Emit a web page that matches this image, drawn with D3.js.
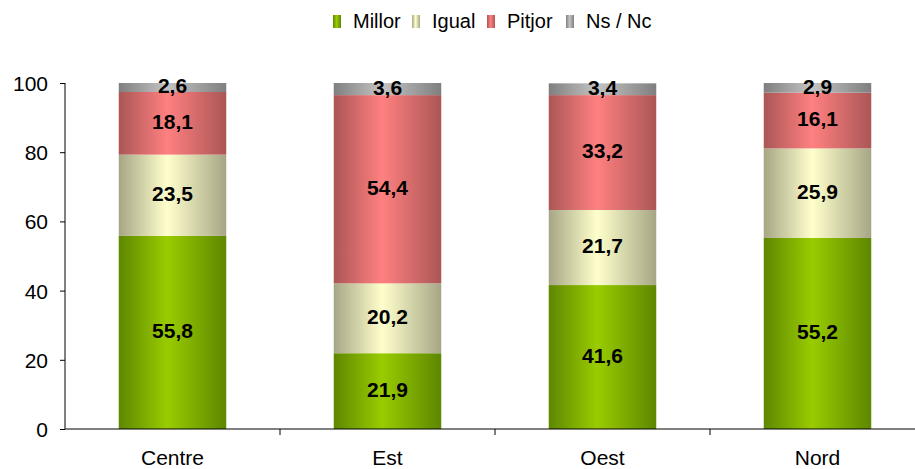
<!DOCTYPE html>
<html>
<head>
<meta charset="utf-8">
<script src="https://cdn.jsdelivr.net/npm/d3@7"></script>
<style>
  body { margin: 0; background: #fff; }
  text { font-family: "Liberation Sans", Arial, sans-serif; }
</style>
</head>
<body>
<svg id="chart" width="915" height="469"></svg>
<script>
// chart data
var categories = ["Centre", "Est", "Oest", "Nord"];
var seriesNames = ["Millor", "Igual", "Pitjor", "Ns / Nc"];
var millor = [55.8, 21.9, 41.6, 55.2];
var igual = [23.5, 20.2, 21.7, 25.9];
var pitjor = [18.1, 54.4, 33.2, 16.1];
var nsnc = [2.6, 3.6, 3.4, 2.9];
var yTicks = [0, 20, 40, 60, 80, 100];

var colors = [
  { edge: "#5e8700", mid: "#99cc00" },
  { edge: "#a6a686", mid: "#ffffcc" },
  { edge: "#ab5656", mid: "#ff8080" },
  { edge: "#7f7f7f", mid: "#c4c4c4" }
];

var svg = d3.select("#chart");

var x = d3.scaleBand().domain(categories).range([65, 925]).paddingInner(0.5).paddingOuter(0.25);
var y = d3.scaleLinear().domain([0, 100]).range([429, 83]);

// gradients
var defs = svg.append("defs");
colors.forEach(function (c, i) {
  var g = defs.append("linearGradient").attr("id", "grad" + i)
    .attr("x1", "0%").attr("x2", "100%").attr("y1", "0%").attr("y2", "0%");
  g.append("stop").attr("offset", "0%").attr("stop-color", c.edge);
  g.append("stop").attr("offset", "45%").attr("stop-color", c.mid);
  g.append("stop").attr("offset", "100%").attr("stop-color", c.edge);
});

// stack the data
var rows = categories.map(function (c, i) {
  return { cat: c, "Millor": millor[i], "Igual": igual[i], "Pitjor": pitjor[i], "Ns / Nc": nsnc[i] };
});
var stacked = d3.stack().keys(seriesNames)(rows);

var layers = svg.selectAll("g.layer")
  .data(stacked)
  .enter().append("g")
  .attr("class", "layer")
  .attr("fill", function (d, i) { return "url(#grad" + i + ")"; });

layers.selectAll("rect")
  .data(function (d) { return d; })
  .enter().append("rect")
  .attr("x", function (d) { return x(d.data.cat); })
  .attr("width", x.bandwidth())
  .attr("y", function (d) { return y(Math.min(d[1], 100)); })
  .attr("height", function (d) { return y(d[0]) - y(Math.min(d[1], 100)); });

// value labels
stacked.forEach(function (layer) {
  svg.append("g").selectAll("text")
    .data(layer)
    .enter().append("text")
    .attr("x", function (d) { return x(d.data.cat) + x.bandwidth() / 2; })
    .attr("y", function (d) { return y((d[0] + Math.min(d[1], 100)) / 2); })
    .attr("dy", "0.28em")
    .attr("text-anchor", "middle")
    .style("font-size", "21px")
    .style("font-weight", "bold")
    .text(function (d) { return d3.format(".1f")(d[1] - d[0]).replace(".", ","); });
});

// y axis
var yAxis = svg.append("g")
  .attr("transform", "translate(65,0)")
  .call(d3.axisLeft(y).tickValues(yTicks).tickSize(5).tickPadding(12));
yAxis.selectAll("text").style("font-size", "21px").attr("fill", "#000").attr("dy", "0.36em");
yAxis.selectAll("line, path").attr("stroke", "#000");
yAxis.select(".domain").attr("d", "M0,83V429");

// x axis
var xAxis = svg.append("g").attr("transform", "translate(0,429)");
xAxis.append("line").attr("x1", 65).attr("x2", 925).attr("stroke", "#000");
xAxis.selectAll("line.tick")
  .data(categories.slice(1))
  .enter().append("line")
  .attr("class", "tick")
  .attr("x1", function (c) { return x(c) - x.step() * x.paddingInner() / 2; })
  .attr("x2", function (c) { return x(c) - x.step() * x.paddingInner() / 2; })
  .attr("y1", 0).attr("y2", 6)
  .attr("stroke", "#000");
xAxis.selectAll("text")
  .data(categories)
  .enter().append("text")
  .attr("x", function (c) { return x(c) + x.bandwidth() / 2; })
  .attr("y", 36)
  .attr("text-anchor", "middle")
  .style("font-size", "21px")
  .text(function (c) { return c; });

// legend
var legendX = [333, 412, 487, 566];
var legend = svg.append("g");
seriesNames.forEach(function (name, i) {
  legend.append("rect")
    .attr("x", legendX[i]).attr("y", 15)
    .attr("width", 8).attr("height", 13)
    .attr("fill", "url(#grad" + i + ")");
  legend.append("text")
    .attr("x", legendX[i] + 20).attr("y", 28)
    .style("font-size", "20px")
    .text(name);
});
</script>
</body>
</html>
